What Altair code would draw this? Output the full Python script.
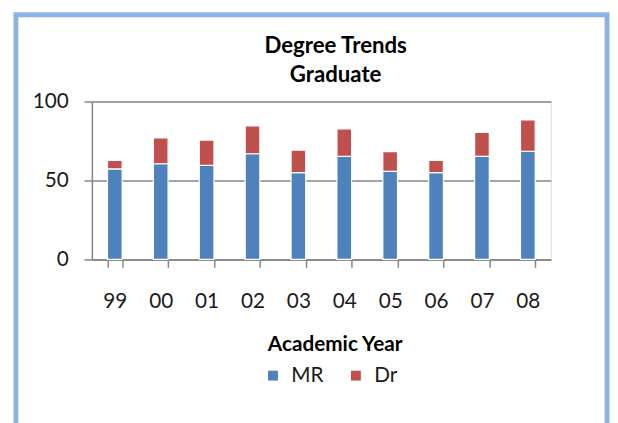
import altair as alt
import pandas as pd

years = ["99", "00", "01", "02", "03", "04", "05", "06", "07", "08"]
mr = [57.3, 60.6, 59.6, 66.9, 55.0, 65.2, 55.8, 55.0, 65.2, 68.5]
dr = [5.4, 16.4, 16.0, 17.7, 14.2, 17.5, 12.5, 7.7, 15.2, 19.8]
series = ["MR", "Dr"]
colors = ["#4f81bd", "#c0504d"]
title_lines = ["Degree Trends", "Graduate"]

rows = []
for y, m, d in zip(years, mr, dr):
    rows.append({"year": y, "series": "MR", "value": m, "ord": 0})
    rows.append({"year": y, "series": "Dr", "value": d, "ord": 1})
df = pd.DataFrame(rows)

FONT = "Lato"
GRID = "#868686"

bars = alt.Chart(df).mark_bar(stroke="white", strokeWidth=1.2).encode(
    x=alt.X("year:N", sort=years,
            scale=alt.Scale(paddingInner=0.68, paddingOuter=0.34),
            axis=alt.Axis(title="Academic Year", labelAngle=0, tickBand="extent",
                          tickSize=8, tickColor=GRID, tickWidth=1.5,
                          domainColor=GRID, domainWidth=1.5,
                          labelFontSize=21, labelColor="#1a1a1a", labelFont=FONT,
                          labelPadding=24, titleFont=FONT, titleFontSize=21,
                          titleFontWeight="bold", titleColor="#000000",
                          titleX=246, titleY=86, titleBaseline="middle",
                          grid=False)),
    y=alt.Y("value:Q", stack="zero",
            scale=alt.Scale(domain=[0, 100]),
            axis=alt.Axis(title=None, values=[0, 50, 100], tickSize=8,
                          tickColor=GRID, tickWidth=1.5, gridColor=GRID,
                          gridWidth=1.5, domainColor=GRID, domainWidth=1.5,
                          labelFontSize=21, labelColor="#1a1a1a", labelFont=FONT,
                          labelPadding=16)),
    color=alt.Color("series:N", sort=series,
                    scale=alt.Scale(domain=series, range=colors),
                    legend=alt.Legend(title=None, orient="none", legendX=173,
                                      legendY=267, direction="horizontal",
                                      symbolType="square", symbolSize=100,
                                      symbolStrokeWidth=0, labelFontSize=21,
                                      labelFont=FONT, labelColor="#1a1a1a",
                                      labelOffset=8, columnPadding=22)),
    order=alt.Order("ord:Q"),
)

frame = alt.Chart(pd.DataFrame({"a": [0]})).mark_rect(
    fill=None, stroke="#8db3e2", strokeWidth=5
).encode(
    x=alt.value(-77), x2=alt.value(522), y=alt.value(-88), y2=alt.value(340)
)

title_df = pd.DataFrame({"line": title_lines, "pos": [-56, -27]})
title = alt.Chart(title_df).mark_text(
    font=FONT, fontSize=22.5, fontWeight="bold", color="#000000",
    align="center", baseline="middle"
).encode(
    text="line:N", x=alt.value(247), y=alt.Y("pos:Q", scale=None)
)

chart = alt.layer(frame, title, bars).properties(
    width=465, height=160,
    autosize=alt.AutoSizeParams(type="none"),
    padding={"left": 85, "top": 92, "right": 60, "bottom": 163},
).configure_view(stroke=None).configure(background="white")

chart.save("out.html", embed_options={"renderer": "svg", "actions": False})
